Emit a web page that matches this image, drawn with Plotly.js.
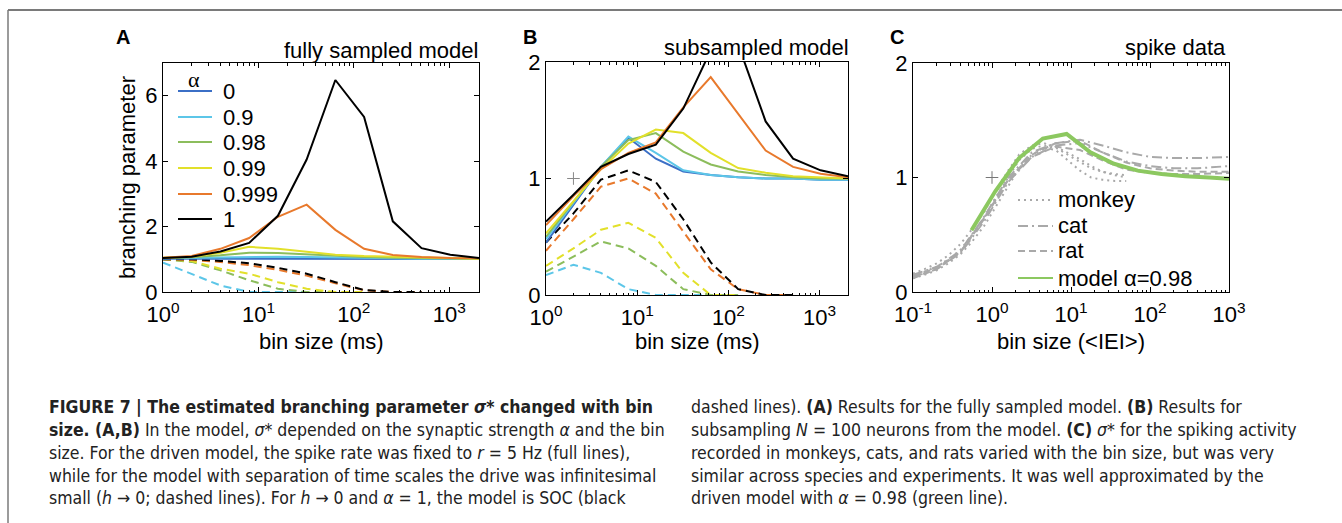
<!DOCTYPE html>
<html>
<head>
<meta charset="utf-8">
<script src="https://cdn.plot.ly/plotly-3.0.1.min.js"></script>
<style>html,body{margin:0;padding:0;background:#fff;}#chart{width:1342px;height:523px;}</style>
</head>
<body>
<div id="chart"></div>
<script>
// ---------- data ----------
const binsMs = [1,2,4,8,16,32,64,128,256,512,1024,2048];
const alphaLabels = ['0','0.9','0.98','0.99','0.999','1'];

// Panel A: fully sampled model, driven (solid)
const aSol0    = [1.02,1.02,1.02,1.02,1.01,1.01,1.01,1.01,1.01,1.01,1.01,1.01];
const aSol09   = [1.03,1.04,1.06,1.08,1.08,1.07,1.05,1.04,1.03,1.02,1.02,1.01];
const aSol098  = [1.04,1.06,1.12,1.20,1.19,1.15,1.10,1.07,1.05,1.04,1.03,1.02];
const aSol099  = [1.05,1.08,1.20,1.38,1.32,1.22,1.14,1.10,1.08,1.05,1.04,1.02];
const aSol0999 = [1.05,1.10,1.32,1.65,2.30,2.67,1.90,1.32,1.13,1.07,1.04,1.03];
const aSol1    = [1.04,1.08,1.24,1.50,2.33,4.05,6.48,5.35,2.16,1.34,1.14,1.04];
// Panel A: separation of time scales (dashed)
const aDsh09   = [0.90,0.55,0.20,0.00,0.00,0.00];
const aDsh098  = [1.00,0.92,0.66,0.36,0.10,0.00,0.00];
const aDsh099  = [1.00,0.95,0.71,0.56,0.30,0.10,0.00,0.00];
const aDsh0999 = [1.00,0.98,0.92,0.82,0.68,0.50,0.27,0.05,0.00,0.00];
const aDsh1    = [1.00,1.00,0.95,0.88,0.74,0.56,0.30,0.06,0.00,0.00];

// Panel B: subsampled model (solid)
const bSol0    = [0.45,0.77,1.10,1.35,1.17,1.06,1.03,1.01,1.00,1.00,0.99,0.99];
const bSol09   = [0.48,0.79,1.10,1.36,1.22,1.07,1.03,1.01,1.00,1.00,0.99,0.99];
const bSol098  = [0.50,0.80,1.10,1.33,1.39,1.23,1.12,1.06,1.03,1.01,1.00,1.00];
const bSol099  = [0.53,0.81,1.08,1.30,1.42,1.39,1.22,1.09,1.05,1.02,1.01,1.00];
const bSol0999 = [0.60,0.85,1.08,1.22,1.31,1.61,1.87,1.55,1.24,1.10,1.04,1.01];
const bSol1    = [0.63,0.86,1.10,1.21,1.29,1.60,2.10,2.15,1.49,1.17,1.07,1.02];
// Panel B: dashed
const bDsh09   = [0.17,0.26,0.19,0.05,0.00,0.00,0.00];
const bDsh098  = [0.20,0.33,0.46,0.40,0.25,0.05,0.00,0.00];
const bDsh099  = [0.25,0.40,0.56,0.62,0.49,0.19,0.00,0.00];
const bDsh0999 = [0.38,0.65,0.93,1.00,0.87,0.55,0.22,0.05,0.00,0.00];
const bDsh1    = [0.45,0.70,0.99,1.07,0.97,0.65,0.28,0.05,0.00,0.00];
const bRefX = [2], bRefY = [1];

// Panel C: spike data (bin size in <IEI>)
const cBinsMonkey = [0.1,0.14,0.2,0.28,0.4,0.56,0.8,1.1,1.6,2.2,3.2,4.5,6.4,9,13,18,25,36,50];
const monkey1 = [0.14,0.18,0.22,0.28,0.37,0.50,0.65,0.82,1.00,1.15,1.25,1.28,1.26,1.20,1.13,1.08,1.05,1.03,1.02];
const monkey2 = [0.12,0.15,0.19,0.25,0.33,0.44,0.58,0.74,0.92,1.08,1.20,1.26,1.24,1.15,1.06,1.00,0.98,0.97,0.97];
const monkey3 = [0.16,0.20,0.25,0.32,0.42,0.55,0.70,0.88,1.06,1.20,1.28,1.30,1.27,1.22,1.16,1.10,1.05,1.02,1.00];
const cBinsLong = [0.1,0.2,0.4,0.8,1.6,3.2,6.4,13,25,50,100,200,400,1000];
const cat1 = [0.15,0.22,0.36,0.66,1.00,1.22,1.30,1.33,1.28,1.22,1.18,1.17,1.17,1.18];
const cat2 = [0.13,0.20,0.34,0.62,0.96,1.18,1.28,1.30,1.22,1.14,1.10,1.08,1.08,1.10];
const rat1 = [0.12,0.20,0.35,0.64,0.98,1.20,1.30,1.32,1.22,1.13,1.08,1.06,1.05,1.05];
const rat2 = [0.14,0.21,0.35,0.65,0.98,1.18,1.27,1.24,1.15,1.07,1.04,1.03,1.03,1.04];
const cBinsModel = [0.55,1.1,2.2,4.4,8.8,17.6,35,70,140,280,560,1000];
const model098 = [0.54,0.88,1.17,1.34,1.38,1.22,1.12,1.06,1.03,1.01,1.00,0.99];
const cRefX = [1], cRefY = [1];
const cLegendNames = ['monkey','cat','rat','model α=0.98'];

const xTickValsMs = [1,10,100,1000];
const xTickTextMs = ['10<sup>0</sup>','10<sup>1</sup>','10<sup>2</sup>','10<sup>3</sup>'];
const xTickValsIEI = [0.1,1,10,100,1000];
const xTickTextIEI = ['10<sup>-1</sup>','10<sup>0</sup>','10<sup>1</sup>','10<sup>2</sup>','10<sup>3</sup>'];

// ---------- styling ----------
const W = 1342, H = 523;
const px = v => v / W, py = v => 1 - v / H;
const FONT = 'Liberation Sans, Arial, Helvetica, sans-serif';
const CAPFONT = 'Liberation Sans Narrow, Arial Narrow, DejaVu Sans Condensed, sans-serif';
const colors = ['#3b6fc6','#5cc6e8','#8cbd5c','#e2e02a','#e8792c','#000000'];
const DASH = '8px,5px';
const gray = '#a9a9a9';
const green = '#8cc860';
const cStyles = [
  {color: gray, width: 2, dash: '2px,4px'},
  {color: gray, width: 2, dash: '10px,4px,2px,4px'},
  {color: gray, width: 2, dash: '7px,4px'},
  {color: green, width: 2, dash: 'solid'}
];

const traces = [];
function solid(x, y, i, xa, ya) {
  traces.push({x: x, y: y, xaxis: xa, yaxis: ya, type: 'scatter', mode: 'lines',
    line: {color: colors[i], width: 2}, name: alphaLabels[i], showlegend: false, hoverinfo: 'skip'});
}
function dashed(y, i, xa, ya) {
  traces.push({x: binsMs.slice(0, y.length), y: y, xaxis: xa, yaxis: ya, type: 'scatter', mode: 'lines',
    line: {color: colors[i], width: 2, dash: DASH}, showlegend: false, hoverinfo: 'skip'});
}
// A
dashed(aDsh09, 1, 'x', 'y'); dashed(aDsh098, 2, 'x', 'y'); dashed(aDsh099, 3, 'x', 'y');
dashed(aDsh0999, 4, 'x', 'y'); dashed(aDsh1, 5, 'x', 'y');
[aSol0, aSol09, aSol098, aSol099, aSol0999, aSol1].forEach((s, i) => solid(binsMs, s, i, 'x', 'y'));
// B
dashed(bDsh09, 1, 'x2', 'y2'); dashed(bDsh098, 2, 'x2', 'y2'); dashed(bDsh099, 3, 'x2', 'y2');
dashed(bDsh0999, 4, 'x2', 'y2'); dashed(bDsh1, 5, 'x2', 'y2');
[bSol0, bSol09, bSol098, bSol099, bSol0999, bSol1].forEach((s, i) => solid(binsMs, s, i, 'x2', 'y2'));
traces.push({x: bRefX, y: bRefY, xaxis: 'x2', yaxis: 'y2', mode: 'markers', showlegend: false,
  marker: {symbol: 'cross-thin', size: 9, line: {color: '#888', width: 1}}, hoverinfo: 'skip'});
// C
function grayLine(x, y, k) {
  traces.push({x: x, y: y, xaxis: 'x3', yaxis: 'y3', mode: 'lines', name: cLegendNames[k],
    showlegend: false, line: cStyles[k], hoverinfo: 'skip'});
}
grayLine(cBinsMonkey, monkey1, 0);
grayLine(cBinsMonkey, monkey2, 0);
grayLine(cBinsMonkey, monkey3, 0);
grayLine(cBinsLong, cat1, 1);
grayLine(cBinsLong, cat2, 1);
grayLine(cBinsLong, rat1, 2);
grayLine(cBinsLong, rat2, 2);
traces.push({x: cBinsModel, y: model098, xaxis: 'x3', yaxis: 'y3', mode: 'lines', name: cLegendNames[3],
  showlegend: false, line: {color: green, width: 4}, hoverinfo: 'skip'});
traces.push({x: cRefX, y: cRefY, xaxis: 'x3', yaxis: 'y3', mode: 'markers', showlegend: false,
  marker: {symbol: 'cross-thin', size: 9, line: {color: '#777', width: 1}}, hoverinfo: 'skip'});

function xAxis(dom, range, tv, tt) {
  return {type: 'log', domain: dom, range: range, tickmode: 'array', tickvals: tv, ticktext: tt,
    ticks: 'inside', ticklen: 5, tickcolor: '#000', showline: true, linecolor: '#000', linewidth: 1,
    mirror: 'allticks', showgrid: false, zeroline: false, ticklabelstandoff: 3,
    tickfont: {family: FONT, size: 22, color: '#000'},
    minor: {ticks: 'inside', ticklen: 2.5, tickcolor: '#000', dtick: 'D1', showgrid: false}, fixedrange: true};
}
function yAxis(dom, range, tv, anchor) {
  return {domain: dom, range: range, tickmode: 'array', tickvals: tv, ticks: 'inside', ticklen: 5,
    tickcolor: '#000', showline: true, linecolor: '#000', linewidth: 1, mirror: 'allticks', showgrid: false,
    zeroline: false, tickfont: {family: FONT, size: 22, color: '#000'}, anchor: anchor, fixedrange: true};
}
const ann = [];
const shapes = [];
function txt(x, y, t, opts) {
  ann.push(Object.assign({xref: 'paper', yref: 'paper', x: px(x), y: py(y), text: t, showarrow: false,
    xanchor: 'center', yanchor: 'middle', font: {family: FONT, size: 22, color: '#000'}}, opts || {}));
}
function legLine(x0, x1, y, line) {
  shapes.push({type: 'line', xref: 'paper', yref: 'paper', x0: px(x0), x1: px(x1), y0: py(y), y1: py(y), line: line});
}
txt(123, 37, '<b>A</b>', {font: {family: FONT, size: 20, color: '#000'}});
txt(530, 37, '<b>B</b>', {font: {family: FONT, size: 20, color: '#000'}});
txt(897, 37, '<b>C</b>', {font: {family: FONT, size: 20, color: '#000'}});
txt(480, 50, 'fully sampled model', {xanchor: 'right'});
txt(851, 48, 'subsampled model', {xanchor: 'right'});
txt(1228, 48, 'spike data', {xanchor: 'right'});
txt(127, 178, 'branching parameter', {textangle: -90});
txt(321, 341, 'bin size (ms)');
txt(697, 341, 'bin size (ms)');
txt(1071, 341, 'bin size (&lt;IEI&gt;)');

// legend A (α)
txt(194, 79, 'α', {font: {family: 'Liberation Serif, serif', size: 22, color: '#000'}});
const legAY = [91, 117, 142, 168, 194, 219];
alphaLabels.forEach((lab, i) => {
  legLine(178, 212, legAY[i], {color: colors[i], width: 2});
  txt(221, legAY[i], lab, {xanchor: 'left'});
});
// legend C
const legCY = [200, 226, 251, 278];
cLegendNames.forEach((lab, k) => {
  legLine(1018, 1053, legCY[k], cStyles[k]);
  txt(1056, legCY[k], lab, {xanchor: 'left'});
});

const capLeft = [
  '<b>FIGURE 7 | The estimated branching parameter <i>σ</i>* changed with bin</b>',
  '<b>size. (A,B)</b> In the model, <i>σ</i>* depended on the synaptic strength <i>α</i> and the bin',
  'size. For the driven model, the spike rate was fixed to <i>r</i> = 5 Hz (full lines),',
  'while for the model with separation of time scales the drive was infinitesimal',
  'small (<i>h</i> → 0; dashed lines). For <i>h</i> → 0 and <i>α</i> = 1, the model is SOC (black'
];
const capRight = [
  'dashed lines). <b>(A)</b> Results for the fully sampled model. <b>(B)</b> Results for',
  'subsampling <i>N</i> = 100 neurons from the model. <b>(C)</b> <i>σ</i>* for the spiking activity',
  'recorded in monkeys, cats, and rats varied with the bin size, but was very',
  'similar across species and experiments. It was well approximated by the',
  'driven model with <i>α</i> = 0.98 (green line).'
];
const capY = [407, 430, 453, 476, 498];
capLeft.forEach((t, i) => txt(47, capY[i], t, {xanchor: 'left', font: {family: CAPFONT, size: 17.5, color: '#222'}}));
capRight.forEach((t, i) => txt(689, capY[i], t, {xanchor: 'left', font: {family: CAPFONT, size: 17.5, color: '#222'}}));

// figure frame
shapes.push({type: 'line', xref: 'paper', yref: 'paper', x0: px(8), x1: 1, y0: py(10), y1: py(10), line: {color: '#7a7a7a', width: 2}});
shapes.push({type: 'line', xref: 'paper', yref: 'paper', x0: px(8), x1: px(8), y0: py(10), y1: 0, line: {color: '#7a7a7a', width: 1.5}});

const layout = {
  width: W, height: H, margin: {l: 0, r: 0, t: 0, b: 0}, paper_bgcolor: '#fff', plot_bgcolor: '#fff',
  font: {family: FONT, color: '#000'}, showlegend: false,
  xaxis: xAxis([px(163), px(479)], [0, Math.log10(2048)], xTickValsMs, xTickTextMs),
  yaxis: yAxis([py(292), py(63)], [0, 7], [0, 2, 4, 6], 'x'),
  xaxis2: Object.assign(xAxis([px(546), px(848)], [0, Math.log10(2048)], xTickValsMs, xTickTextMs), {anchor: 'y2'}),
  yaxis2: yAxis([py(295), py(62)], [0, 2], [0, 1, 2], 'x2'),
  xaxis3: Object.assign(xAxis([px(913), px(1229)], [-1, 3], xTickValsIEI, xTickTextIEI), {anchor: 'y3'}),
  yaxis3: yAxis([py(292), py(63)], [0, 2], [0, 1, 2], 'x3'),
  annotations: ann,
  shapes: shapes
};
Plotly.newPlot('chart', traces, layout, {staticPlot: true, displayModeBar: false});
</script>
</body>
</html>
